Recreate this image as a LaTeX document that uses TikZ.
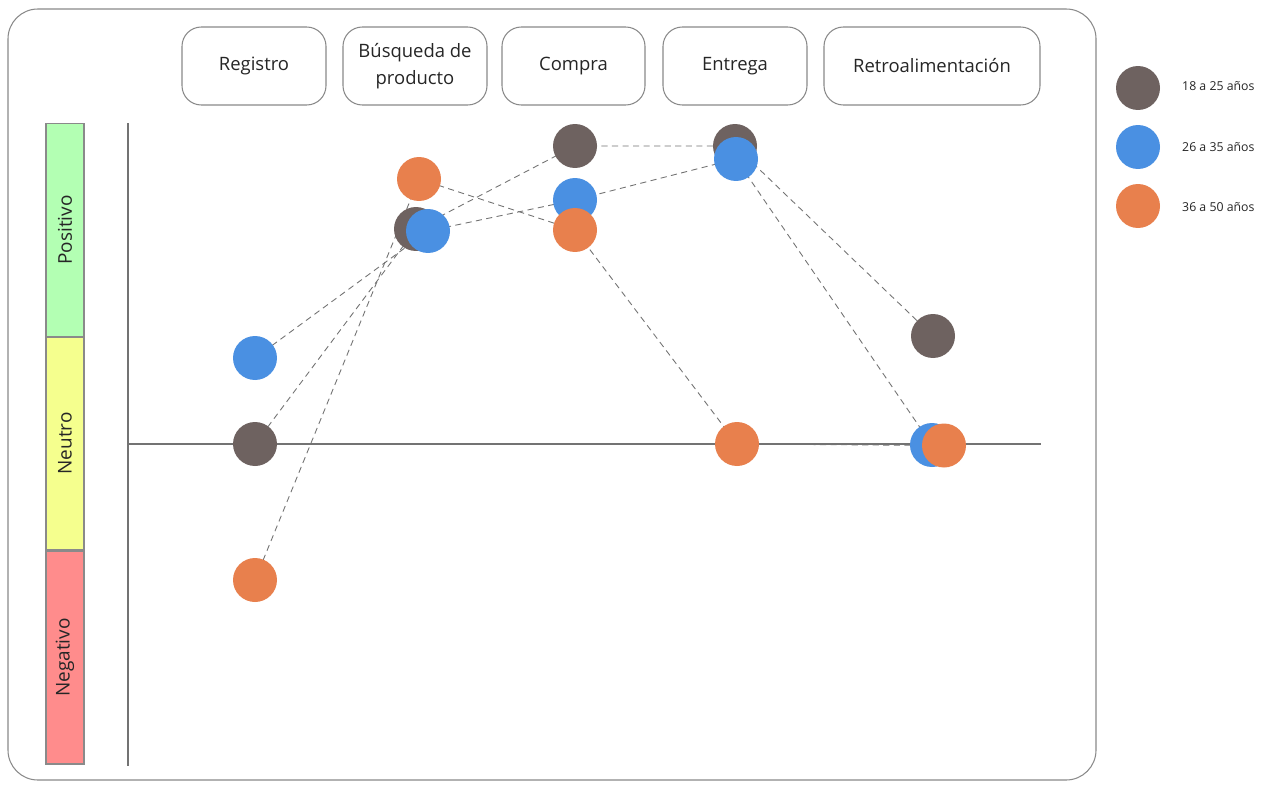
\documentclass[tikz,border=0pt]{standalone}
\usepackage{fontspec}
\setmainfont{Open Sans}
\pgfdeclarelayer{bg}
\pgfdeclarelayer{links}
\pgfsetlayers{bg,links,main}
\definecolor{ageA}{HTML}{6E6260}
\definecolor{ageB}{HTML}{4A90E2}
\definecolor{ageC}{HTML}{E8804D}
\definecolor{posfill}{HTML}{B3FFB3}
\definecolor{neufill}{HTML}{F5FF8E}
\definecolor{negfill}{HTML}{FF8C8C}
\definecolor{edge}{HTML}{8A8A8A}
\tikzset{
  stage/.style={draw=edge, line width=0.6pt, rounded corners=11pt, minimum width=#1, minimum height=78*0.02cm,
    align=center, font=\fontsize{10.5}{15.3}\selectfont, text=black!85, inner sep=0pt},
  dot/.style={circle, fill=#1, minimum size=0.88cm, inner sep=0pt},
  band/.style={draw=edge, line width=0.6pt, fill=#1, minimum width=38*0.02cm, minimum height=213*0.02cm, inner sep=0pt},
  bandlabel/.style={rotate=90, font=\fontsize{10.8}{12}\selectfont, text=black!85},
  link/.style={dashed, draw=black!55, line width=0.5pt, dash pattern=on 3.5pt off 2.5pt},
  axis/.style={draw=black!55, line width=0.6pt},
  legtext/.style={anchor=west, font=\fontsize{7}{8}\selectfont, text=black!85},
}
\begin{document}
\begin{tikzpicture}[x=0.02cm, y=-0.02cm]
\useasboundingbox (0,0) rectangle (1270,784);
\begin{pgfonlayer}{bg}
  \fill[white] (0,0) rectangle (1270,784);
\end{pgfonlayer}
% outer frame
\draw[draw=edge, line width=0.6pt, rounded corners=17pt] (8,9) rectangle (1096,780);

% journey stages
\node[stage=144*0.02cm] (s1) at (254,66) {Registro};
\node[stage=144*0.02cm] (s2) at (415,66) {Búsqueda de\\producto};
\node[stage=143*0.02cm] (s3) at (573.5,66) {Compra};
\node[stage=144*0.02cm] (s4) at (735,66) {Entrega};
\node[stage=216*0.02cm] (s5) at (932,66) {Retroalimentación};

% emotion bands
\node[band=posfill] (bpos) at (65,230) {};
\node[band=neufill] (bneu) at (65,443.5) {};
\node[band=negfill] (bneg) at (65,657.5) {};
\node[bandlabel] at (bpos) {Positivo};
\node[bandlabel] at (bneu) {Neutro};
\node[bandlabel] at (bneg) {Negativo};

% axes
\coordinate (ytop) at (128,123);
\coordinate (ybot) at (128,766);
\coordinate (xl) at (128,444);
\coordinate (xr) at (1041,444);
\draw[axis] (ytop) -- (ybot);
\draw[axis] (xl) -- (xr);

% 18 a 25
\node[dot=ageA] (a1) at (255,444) {};
\node[dot=ageA] (a2) at (416,229) {};
\node[dot=ageA] (a3) at (575,146) {};
\node[dot=ageA] (a4) at (735,146) {};
\node[dot=ageA] (a5) at (933,336) {};
% 26 a 35
\node[dot=ageB] (b1) at (255,358) {};
\node[dot=ageB] (b2) at (428,231) {};
\node[dot=ageB] (b3) at (575,200) {};
\node[dot=ageB] (b4) at (736,159) {};
\node[dot=ageB] (b5) at (932,445) {};
% 36 a 50
\node[dot=ageC] (c1) at (255,580) {};
\node[dot=ageC] (c2) at (419,179) {};
\node[dot=ageC] (c3) at (575,230) {};
\node[dot=ageC] (c4) at (737,444) {};
\node[dot=ageC] (c5) at (944,445.5) {};

\begin{pgfonlayer}{links}
  \draw[link] (a1.center) -- (a2.center) -- (a3.center) -- (a4.center) -- (a5.center);
  \draw[link] (b1.center) -- (b2.center) -- (b3.center) -- (b4.center) -- (b5.center);
  \draw[link] (c1.center) -- (c2.center) -- (c3.center) -- (c4.center) -- (c5.center);
\end{pgfonlayer}

% legend
\node[dot=ageA] (la) at (1138,88) {};
\node[dot=ageB] (lb) at (1138,147) {};
\node[dot=ageC] (lc) at (1138,206) {};
\node[legtext] at (1176,86) {18 a 25 años};
\node[legtext] at (1176,147) {26 a 35 años};
\node[legtext] at (1176,207) {36 a 50 años};
\end{tikzpicture}
\end{document}
